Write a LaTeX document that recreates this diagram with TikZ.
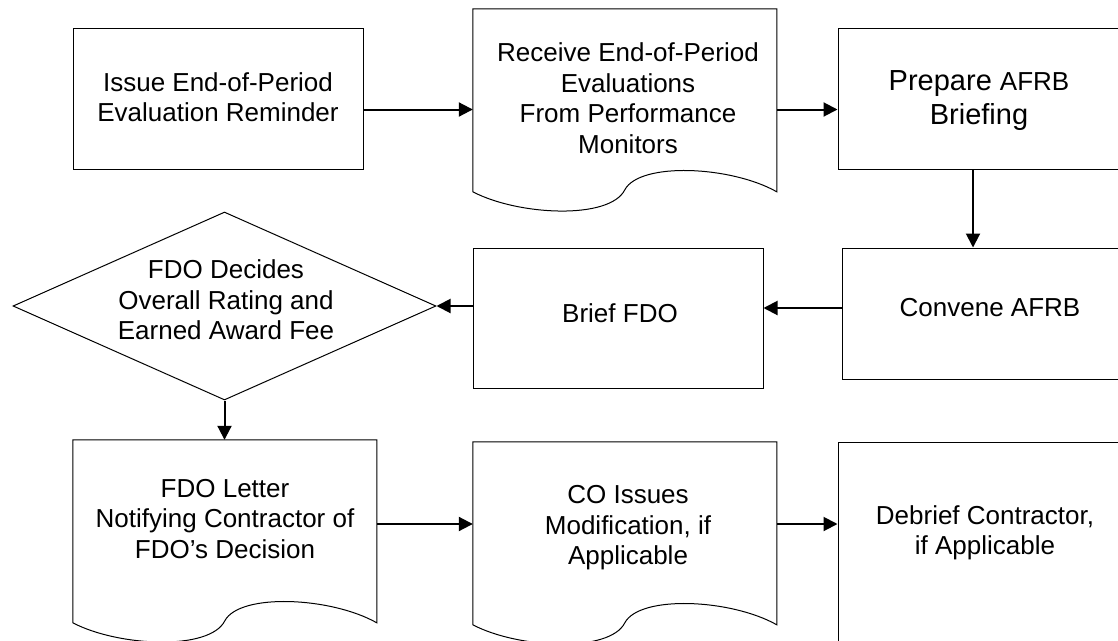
\documentclass[tikz,border=0pt]{standalone}
\usepackage{fontspec}
\setmainfont{Liberation Sans}
\usetikzlibrary{arrows.meta,shapes.geometric}
\newcommand\docshape[1]{%
  \begin{scope}[shift={(#1.north west)}]
    \draw[shapeline] (0,0) -- (304,0) -- (304,183)
      .. controls (258,157) and (167,153) .. (152,181)
      .. controls (137,211) and (46,207) .. (0,183) -- cycle;
  \end{scope}}
\begin{document}
\begin{tikzpicture}[x=1pt,y=-1pt,
  shapeline/.style={draw=black, line width=1pt},
  boxshape/.style={shapeline, rectangle, inner sep=0pt},
  docframe/.style={rectangle, draw=none, inner sep=0pt, minimum width=304pt, minimum height=201pt},
  txt/.style={align=center, inner sep=0pt, font=\fontsize{26pt}{30.5pt}\selectfont},
  arr/.style={line width=2pt, -{Triangle[length=14pt,width=14pt]}}
]
\useasboundingbox (0,0) rectangle (1118,640);
\clip (0,0) rectangle (1118,640);

% shapes
\node[boxshape, minimum width=290pt, minimum height=141pt] (issue) at (218,98.5) {};
\node[docframe] (recv) at (625,109.5) {};
\node[boxshape, minimum width=282pt, minimum height=141pt] (prepare) at (979,98.5) {};
\node[boxshape, minimum width=296pt, minimum height=131pt] (convene) at (990,313.5) {};
\node[boxshape, minimum width=290pt, minimum height=140pt] (brief) at (618,318) {};
\node[shapeline, diamond, aspect=2.25, inner sep=0pt, minimum width=423pt, minimum height=188pt] (decide) at (224.5,306) {};
\node[docframe] (letter) at (225,540.5) {};
\node[docframe] (co) at (625,542.5) {};
\node[boxshape, minimum width=294pt, minimum height=216pt] (debrief) at (985,550) {};
\docshape{recv}
\docshape{letter}
\docshape{co}

% texts
\node[txt] (issuetext) at (218,97) {Issue End-of-Period\\Evaluation Reminder};
\node[txt] (recvtext) at (628,98) {Receive End-of-Period\\Evaluations\\From Performance\\Monitors};
\node[txt, font=\fontsize{29pt}{34pt}\selectfont] (preparetext) at (979,101) {Prepare {\fontsize{26pt}{34pt}\selectfont AFRB}\\Briefing};
\node[txt] (convenetext) at (990,308) {Convene AFRB};
\node[txt] (brieftext) at (620,313) {Brief FDO};
\node[txt] (decidetext) at (226,300) {FDO Decides\\Overall Rating and\\Earned Award Fee};
\node[txt] (lettertext) at (225,519) {FDO Letter\\Notifying Contractor of\\FDO’s Decision};
\node[txt] (cotext) at (628,528) {CO Issues\\Modification, if\\Applicable};
\node[txt] (debrieftext) at (985,533) {Debrief Contractor,\\if Applicable};

% connectors
\draw[arr] (issue.east |- recv.west) -- (recv.west);
\draw[arr] (recv.east) -- (recv.east -| prepare.west);
\draw[arr] ([xshift=-6pt]prepare.south) -- ([xshift=-6pt]prepare.south |- convene.north);
\draw[arr] ([yshift=5.5pt]convene.west) -- ([yshift=5.5pt]convene.west -| brief.east);
\draw[arr] (brief.west |- decide.east) -- (decide.east);
\draw[arr] (decide.south) -- (decide.south |- letter.north);
\draw[arr] ([yshift=16.5pt]letter.east) -- ([yshift=16.5pt]letter.east -| co.west);
\draw[arr] ([yshift=18.5pt]co.east) -- ([yshift=18.5pt]co.east -| debrief.west);
\end{tikzpicture}
\end{document}
